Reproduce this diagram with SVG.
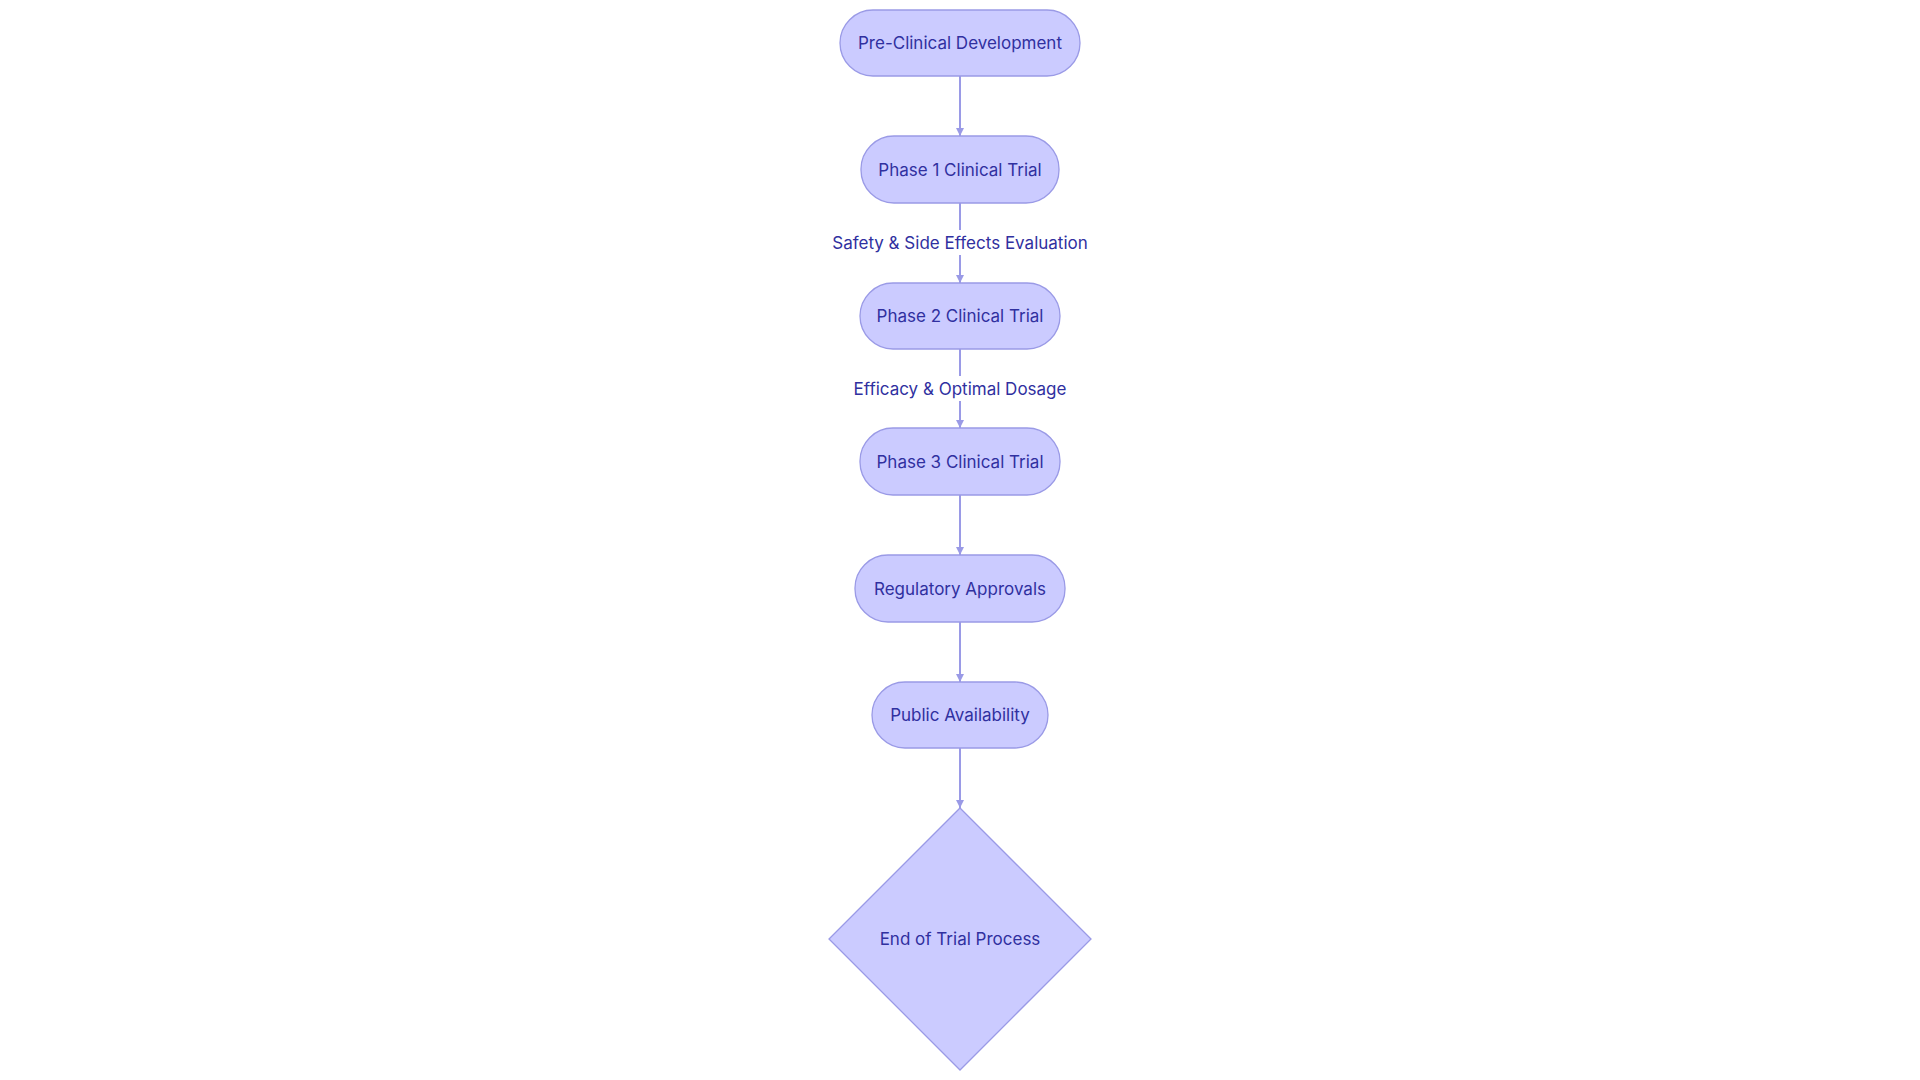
<svg xmlns="http://www.w3.org/2000/svg" width="1920" height="1080" viewBox="0 0 1920 1080">
<defs>
<marker id="ah" viewBox="0 0 10 10" refX="10" refY="5" markerWidth="8" markerHeight="8" markerUnits="userSpaceOnUse" orient="auto"><path d="M0,0L10,5L0,10z" fill="#9a9ae6"/></marker>
<style>
.n{fill:#cbcbff;stroke:#9a9ae6;stroke-width:1.3}
.t{font-family:Inter,"Liberation Sans",sans-serif;font-size:17px;fill:#3030a0;text-anchor:middle;dominant-baseline:central}
.e{stroke:#9a9ae6;stroke-width:2;fill:none;marker-end:url(#ah)}
</style>
</defs>
<rect width="1920" height="1080" fill="#fff"/>
<g id="connectors">
<line class="e" x1="960" y1="76" x2="960" y2="136"/>
<line class="e" x1="960" y1="203" x2="960" y2="283"/>
<line class="e" x1="960" y1="349" x2="960" y2="428"/>
<line class="e" x1="960" y1="495" x2="960" y2="555"/>
<line class="e" x1="960" y1="622" x2="960" y2="682"/>
<line class="e" x1="960" y1="748" x2="960" y2="808"/>
<rect x="836" y="230" width="248" height="25" fill="#fff"/>
<text class="t" x="960" y="243">Safety &amp; Side Effects Evaluation</text>
<rect x="858" y="376" width="204" height="25" fill="#fff"/>
<text class="t" x="960" y="389">Efficacy &amp; Optimal Dosage</text>
</g>
<g id="n1"><rect class="n" x="840" y="10" width="240" height="66" rx="33"/><text class="t" x="960" y="43">Pre-Clinical Development</text></g>
<g id="n2"><rect class="n" x="861" y="136" width="198" height="67" rx="33"/><text class="t" x="960" y="169.5">Phase 1 Clinical Trial</text></g>
<g id="n3"><rect class="n" x="860" y="283" width="200" height="66" rx="33"/><text class="t" x="960" y="316">Phase 2 Clinical Trial</text></g>
<g id="n4"><rect class="n" x="860" y="428" width="200" height="67" rx="33"/><text class="t" x="960" y="461.5">Phase 3 Clinical Trial</text></g>
<g id="n5"><rect class="n" x="855" y="555" width="210" height="67" rx="33"/><text class="t" x="960" y="588.5">Regulatory Approvals</text></g>
<g id="n6"><rect class="n" x="872" y="682" width="176" height="66" rx="33"/><text class="t" x="960" y="715">Public Availability</text></g>
<g id="n7"><polygon class="n" points="960,808 1091,939 960,1070 829,939"/><text class="t" x="960" y="939">End of Trial Process</text></g>
</svg>
